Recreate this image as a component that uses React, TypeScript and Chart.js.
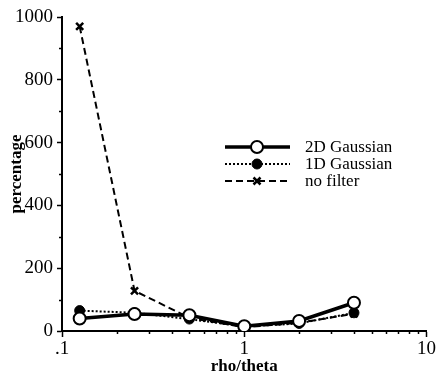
import React, { useEffect, useRef } from "react";
import { Chart, registerables } from "chart.js";

Chart.register(...registerables);

const xValues = [0.125, 0.25, 0.5, 1, 2, 4];
const gauss2D = [40, 54, 50, 15, 32, 90];
const gauss1D = [65, 58, 38, 14, 24, 58];
const noFilter = [970, 128, 42, 12, 26, 55];

const xTickValues = [0.1, 1, 10];
const xTickLabels = [".1", "1", "10"];
const xMinorTicks = [0.2, 0.3, 0.4, 0.5, 0.6, 0.7, 0.8, 0.9, 2, 3, 4, 5, 6, 7, 8, 9];
const yMinorTicks = [100, 300, 500, 700, 900];

const seriesNames = ["2D Gaussian", "1D Gaussian", "no filter"];

const SERIF = "'Liberation Serif', 'DejaVu Serif', serif";

const pts = (ys: number[]) => xValues.map((x, i) => ({ x, y: ys[i] }));

const minorTicksPlugin = {
  id: "minorTicks",
  afterDraw(chart: any) {
    const ctx = chart.ctx;
    const xs = chart.scales.x;
    const ys = chart.scales.y;
    const area = chart.chartArea;
    ctx.save();
    ctx.strokeStyle = "#000";
    ctx.lineWidth = 1.5;
    ctx.beginPath();
    xMinorTicks.forEach((v) => {
      const px = Math.round(xs.getPixelForValue(v)) + 0.5;
      ctx.moveTo(px, area.bottom);
      ctx.lineTo(px, area.bottom + 3);
    });
    yMinorTicks.forEach((v) => {
      const py = Math.round(ys.getPixelForValue(v)) + 0.5;
      ctx.moveTo(area.left, py);
      ctx.lineTo(area.left - 3, py);
    });
    ctx.stroke();
    ctx.restore();
  },
};

const legendPlugin = {
  id: "customLegend",
  afterDatasetsDraw(chart: any) {
    const ctx = chart.ctx;
    const rows = [147, 164, 181];
    const x0 = 225;
    const x1 = 290;
    const xm = 257;
    const xt = 305;
    ctx.save();
    chart.data.datasets.forEach((ds: any, i: number) => {
      const y = rows[i];
      ctx.strokeStyle = "#000";
      ctx.lineWidth = ds.borderWidth;
      ctx.setLineDash(ds.borderDash || []);
      ctx.beginPath();
      ctx.moveTo(x0, y);
      ctx.lineTo(x1, y);
      ctx.stroke();
      ctx.setLineDash([]);
      if (ds.pointStyle === "circle") {
        ctx.beginPath();
        ctx.arc(xm, y, ds.pointRadius, 0, Math.PI * 2);
        ctx.fillStyle = ds.pointBackgroundColor;
        ctx.fill();
        ctx.lineWidth = ds.pointBorderWidth;
        ctx.stroke();
      } else {
        const r = ds.pointRadius * 0.7;
        ctx.lineWidth = ds.pointBorderWidth;
        ctx.beginPath();
        ctx.moveTo(xm - r, y - r);
        ctx.lineTo(xm + r, y + r);
        ctx.moveTo(xm + r, y - r);
        ctx.lineTo(xm - r, y + r);
        ctx.stroke();
      }
      ctx.fillStyle = "#000";
      ctx.font = "17px " + SERIF;
      ctx.textBaseline = "middle";
      ctx.textAlign = "left";
      ctx.fillText(ds.label, xt, y + 1);
    });
    ctx.restore();
  },
};

export default function App() {
  const ref = useRef<HTMLCanvasElement | null>(null);

  useEffect(() => {
    if (!ref.current) return;
    const chart = new Chart(ref.current, {
      type: "line",
      data: {
        datasets: [
          {
            label: seriesNames[0],
            data: pts(gauss2D),
            borderColor: "#000",
            borderWidth: 3.5,
            pointStyle: "circle",
            pointRadius: 6,
            pointBackgroundColor: "#fff",
            pointBorderColor: "#000",
            pointBorderWidth: 2,
            order: 1,
          },
          {
            label: seriesNames[1],
            data: pts(gauss1D),
            borderColor: "#000",
            borderWidth: 2,
            borderDash: [2, 2],
            pointStyle: "circle",
            pointRadius: 5,
            pointBackgroundColor: "#000",
            pointBorderColor: "#000",
            pointBorderWidth: 1,
            order: 2,
          },
          {
            label: seriesNames[2],
            data: pts(noFilter),
            borderColor: "#000",
            borderWidth: 2,
            borderDash: [7, 4],
            pointStyle: "crossRot",
            pointRadius: 5,
            pointBackgroundColor: "#000",
            pointBorderColor: "#000",
            pointBorderWidth: 2.5,
            order: 3,
          },
        ] as any,
      },
      options: {
        animation: false,
        responsive: false,
        layout: { padding: { top: 17, right: 2, bottom: 0, left: 0 } },
        plugins: {
          legend: { display: false },
          tooltip: { enabled: false },
          title: { display: false },
        },
        elements: { line: { tension: 0 } },
        scales: {
          x: {
            type: "logarithmic",
            min: 0.1,
            max: 10,
            afterBuildTicks: (scale: any) => {
              scale.ticks = xTickValues.map((v) => ({ value: v }));
            },
            afterFit: (scale: any) => {
              scale.height = 51;
            },
            ticks: {
              autoSkip: false,
              maxRotation: 0,
              padding: 1,
              color: "#000",
              font: { family: SERIF, size: 19 },
              callback: (v: any) => {
                const i = xTickValues.indexOf(Number(v));
                return i >= 0 ? xTickLabels[i] : "";
              },
            },
            grid: {
              display: true,
              drawOnChartArea: false,
              drawTicks: true,
              tickLength: 6,
              tickWidth: 1.5,
              tickColor: "#000",
            },
            border: { display: true, color: "#000", width: 2 },
            title: {
              display: true,
              text: "rho/theta",
              color: "#000",
              font: { family: SERIF, size: 17, weight: "bold" },
              padding: { top: 0, bottom: 5 },
            },
          },
          y: {
            type: "linear",
            min: 0,
            max: 1000,
            afterFit: (scale: any) => {
              scale.width = 62;
            },
            ticks: {
              stepSize: 200,
              padding: 4,
              color: "#000",
              font: { family: SERIF, size: 19 },
              callback: (v: any) => String(v),
            },
            grid: {
              display: true,
              drawOnChartArea: false,
              drawTicks: true,
              tickLength: 5,
              tickWidth: 1.5,
              tickColor: "#000",
            },
            border: { display: true, color: "#000", width: 2 },
            title: {
              display: true,
              text: "percentage",
              color: "#000",
              font: { family: SERIF, size: 17, weight: "bold" },
              padding: { top: 6, bottom: 0 },
            },
          },
        },
      } as any,
      plugins: [minorTicksPlugin, legendPlugin],
    });
    return () => chart.destroy();
  }, []);

  return (
    <div
      style={{
        position: "fixed",
        left: 0,
        top: 0,
        width: 437,
        height: 382,
        background: "#fff",
      }}
    >
      <canvas ref={ref} width={437} height={382} />
    </div>
  );
}
